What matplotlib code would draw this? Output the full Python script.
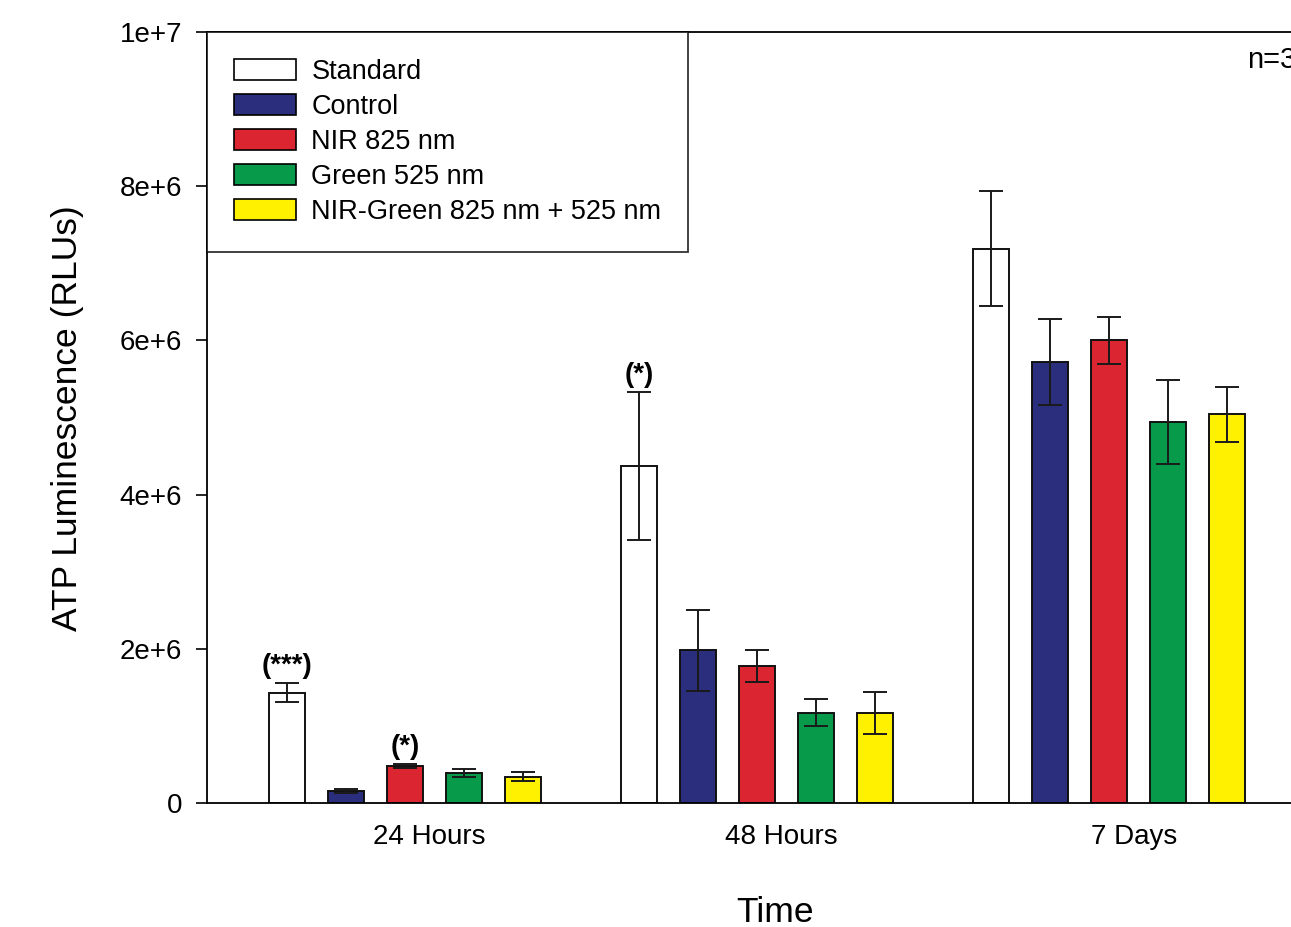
import matplotlib
matplotlib.use("Agg")
import matplotlib.pyplot as plt
from matplotlib.patches import Patch
import numpy as np

plt.rcParams['font.family'] = ['Liberation Sans', 'DejaVu Sans']

groups = ["24 Hours", "48 Hours", "7 Days"]
series = ["Standard", "Control", "NIR 825 nm", "Green 525 nm", "NIR-Green 825 nm + 525 nm"]
colors = ["#ffffff", "#2a2e7c", "#db2530", "#079a4a", "#fff100"]

standard = [1.43e6, 4.37e6, 7.19e6]
control = [0.156e6, 1.98e6, 5.72e6]
nir = [0.48e6, 1.78e6, 6.00e6]
green = [0.39e6, 1.17e6, 4.94e6]
nirgreen = [0.34e6, 1.17e6, 5.04e6]

standard_err = [0.125e6, 0.96e6, 0.75e6]
control_err = [0.02e6, 0.525e6, 0.56e6]
nir_err = [0.03e6, 0.21e6, 0.30e6]
green_err = [0.052e6, 0.175e6, 0.54e6]
nirgreen_err = [0.058e6, 0.27e6, 0.36e6]

values = [standard, control, nir, green, nirgreen]
errors = [standard_err, control_err, nir_err, green_err, nirgreen_err]

annotations = [(0, 0, "(***)"), (0, 2, "(*)"), (1, 0, "(*)")]

W, H = 1291, 927
fig = plt.figure(figsize=(W / 100, H / 100), dpi=100)
left, right, top, bottom = 207, 1330, 32, 803
ax = fig.add_axes([left / W, 1 - bottom / H, (right - left) / W, (bottom - top) / H])

gsp = 352.0
step = 59.0 / gsp
bw = 36.0 / gsp
x = np.arange(len(groups))
for j, (vals, errs, c) in enumerate(zip(values, errors, colors)):
    xs = x + (j - 2) * step
    ax.bar(xs, vals, width=bw, color=c, edgecolor="#111111", linewidth=1.4, zorder=2)
    ax.errorbar(xs, vals, yerr=errs, fmt="none", ecolor="#1a1a1a", elinewidth=1.4,
                capsize=8.5, capthick=1.4, zorder=3)

for g, s, txt in annotations:
    xv = g + (s - 2) * step
    yv = values[s][g] + errors[s][g]
    ax.annotate(txt, (xv, yv), xytext=(0, 3), textcoords="offset points",
                ha="center", va="bottom", fontsize=20, fontweight="bold")

ax.set_xlim((left - 405) / gsp, (right - 405) / gsp)
ax.set_ylim(0, 1e7)
ax.set_yticks([0, 2e6, 4e6, 6e6, 8e6, 1e7])
ax.set_yticklabels(["0", "2e+6", "4e+6", "6e+6", "8e+6", "1e+7"])
ax.set_xticks(x + 0.07)
ax.set_xticklabels(groups)
ax.tick_params(axis="x", length=0, pad=15, labelsize=20)
ax.tick_params(axis="y", length=8, width=1.2, pad=10, labelsize=20, direction="out")
for sp in ["left", "bottom", "top", "right"]:
    ax.spines[sp].set_linewidth(1.3)
ax.spines["right"].set_visible(False)

handles = [Patch(facecolor=c, edgecolor="black", linewidth=1.2) for c in colors]
leg = ax.legend(handles, series, loc="upper left", bbox_to_anchor=(0, 1), borderaxespad=0,
                fontsize=19.5, frameon=True, fancybox=False, edgecolor="black",
                handlelength=2.3, handleheight=0.82, handletextpad=0.55,
                labelspacing=0.33, borderpad=1.0)
leg.get_frame().set_linewidth(1.3)
leg.get_frame().set_facecolor("white")
leg.set_zorder(5)

fig.text(68 / W, 1 - 418 / H, "ATP Luminescence (RLUs)", rotation=90,
         ha="center", va="center", fontsize=25.5)
fig.text(1247 / W, 1 - 60 / H, "n=3", ha="left", va="center", fontsize=21)
fig.text(775 / W, 1 - 912 / H, "Time", ha="center", va="center", fontsize=25.5)

fig.savefig("out.png", dpi=100)
